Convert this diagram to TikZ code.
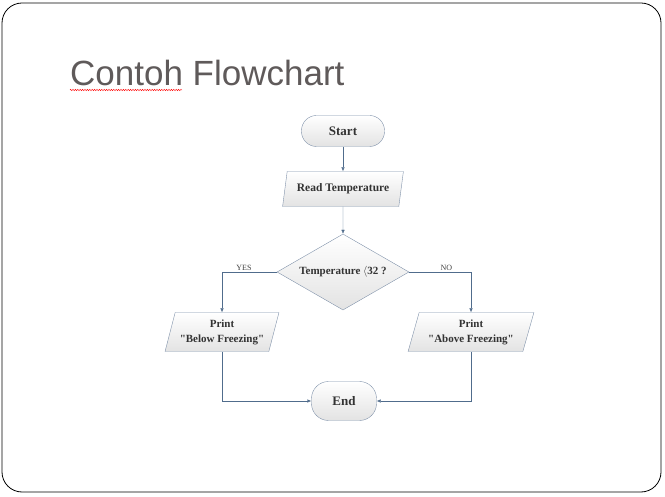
\documentclass[tikz,border=0pt]{standalone}
\usepackage{fontspec}
\setmainfont{Liberation Serif}
\newfontfamily\titlefont{Liberation Sans}
\usepackage{tikz}
\usetikzlibrary{shapes.geometric, arrows.meta, decorations.pathmorphing}
\definecolor{garis}{RGB}{80,108,140}
\definecolor{tepi}{RGB}{128,146,170}
\definecolor{judul}{RGB}{95,90,90}
\tikzset{
    kotak/.style={draw=tepi, top color=white, bottom color=black!11, text=black!80,
        font=\bfseries\fontsize{11}{15}\selectfont, align=center, inner sep=0pt},
    terminal/.style={kotak, rectangle, rounded corners=15pt, font=\bfseries\fontsize{13}{15}\selectfont},
    masukan/.style={kotak, trapezium, trapezium left angle=70, trapezium right angle=110,
        trapezium stretches=true},
    keputusan/.style={kotak, diamond, aspect=1.74, minimum width=132pt, minimum height=76pt},
    alur/.style={draw=garis, -{Latex[length=4pt,width=3.5pt]}},
    label/.style={font=\fontsize{8}{9}\selectfont, text=black!75, inner sep=1pt}
}

\begin{document}
\begin{tikzpicture}[x=1pt, y=-1pt]
    \useasboundingbox (0,0) rectangle (665,497);
    % bingkai slide
    \draw[black, line width=0.8pt, rounded corners=20pt] (2,3) rectangle (661,492);
    \node[anchor=base west, inner sep=0pt, text=judul, font=\titlefont\fontsize{35}{40}\selectfont] (judul) at (70,86) {Contoh Flowchart};
    \draw[red, line width=0.4pt, decorate, decoration={zigzag, amplitude=0.7pt, segment length=2.4pt}] (70,90) -- (182,90);

    % langkah
    \node[terminal, minimum width=83pt, minimum height=31pt] (start) at (343,131) {Start};
    \node[masukan, minimum width=121pt, minimum height=35pt, font=\bfseries\fontsize{11.5}{15}\selectfont] (baca) at (343,189) {Read Temperature};
    \node[keputusan] (cek) at (343,272) {Temperature $\langle$32 ?};
    \node[masukan, minimum width=114pt, minimum height=39pt] (bawah) at (222,332) {Print\\\textquotedbl Below Freezing\textquotedbl};
    \node[masukan, minimum width=126pt, minimum height=39pt] (atas) at (471,332) {Print\\\textquotedbl Above Freezing\textquotedbl};
    \node[terminal, minimum width=65pt, minimum height=39pt, rounded corners=17pt] (akhir) at (344,401) {End};

    % panah
    \draw[alur] (start) -- (baca);
    \draw[alur] (baca) -- (cek);
    \draw[alur] (cek.west) -| node[label, pos=0.3, above] {YES} (bawah.north);
    \draw[alur] (cek.east) -| node[label, pos=0.3, above] {NO} (atas.north);
    \draw[alur] (bawah.south) |- (akhir.west);
    \draw[alur] (atas.south) |- (akhir.east);
\end{tikzpicture}
\end{document}
